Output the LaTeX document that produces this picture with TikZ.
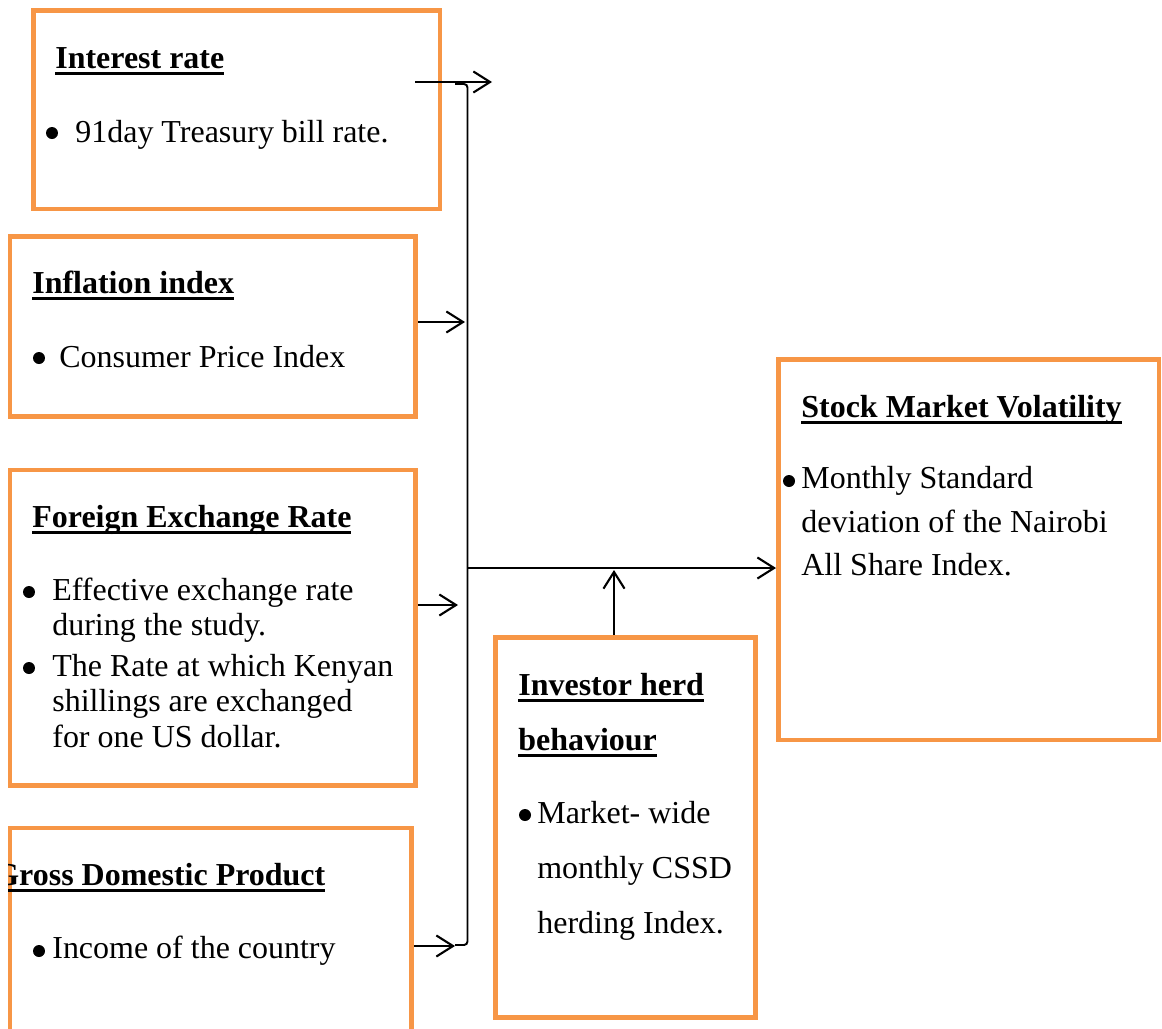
\documentclass[tikz,border=0pt]{standalone}
\usepackage{fontspec}
\setmainfont{Liberation Serif}
\usetikzlibrary{arrows.meta,fit}
\definecolor{boxorange}{HTML}{F79646}
\newcommand{\headline}[1]{\setbox0\hbox{\bfseries #1}\rlap{\rule[-4.2pt]{\wd0}{2.1pt}}\box0}

\begin{document}
\begin{tikzpicture}[x=0.02cm, y=-0.02cm,
	factor/.style={draw=boxorange, line width=2.8pt, inner sep=0pt},
	txt/.style={anchor=base west, inner sep=0pt, font=\fontsize{18.2}{22}\selectfont},
	dot/.style={circle, fill=black, inner sep=0pt, minimum size=0.24cm},
	flow/.style={line width=1.2pt, -{Straight Barb[length=9.5pt,width=12pt,line width=1.2pt]}},
	bus/.style={line width=1.1pt, rounded corners=2pt}]
			%%%%% START %%%%%
			
			\useasboundingbox (0, 0) rectangle (1162, 1028);
			
			% boxes
			\node[factor, fit={(33.5, 10.5) (440, 209)}] (interest) {};
			\node[factor, fit={(10, 236.5) (415.5, 416.5)}] (inflation) {};
			\node[factor, fit={(10, 470) (415.5, 785.5)}] (foreign) {};
			\node[factor, fit={(10, 828) (411.5, 1035)}] (gdp) {};
			\node[factor, fit={(495.5, 637.5) (755.5, 1017.5)}] (herd) {};
			\node[factor, fit={(778.5, 359.5) (1159, 740)}] (stock) {};
			
			% interest rate
			\node[txt] (irHead) at (55, 68) {\headline{Interest rate}};
			\node[dot] (irDot) at (52, 133) {};
			\node[txt] (irItem) at (75, 142) {91day Treasury bill rate.};
			
			% inflation
			\node[txt] (infHead) at (32, 293) {\headline{Inflation index}};
			\node[dot] (infDot) at (39, 358) {};
			\node[txt] (infItem) at (59, 367) {Consumer Price Index};
			
			% foreign exchange
			\node[txt] (fxHead) at (32, 527) {\headline{Foreign Exchange Rate}};
			\node[dot] (fxDotA) at (29, 592) {};
			\node[txt] (fxItemA) at (52, 600) {Effective exchange rate};
			\node[txt] (fxItemB) at (52, 635) {during the study.};
			\node[dot] (fxDotB) at (29, 668) {};
			\node[txt] (fxItemC) at (52, 676) {The Rate at which Kenyan};
			\node[txt] (fxItemD) at (52, 711) {shillings are exchanged};
			\node[txt] (fxItemE) at (52, 747) {for one US dollar.};
			
			% gdp, heading cut at the box edge
			\begin{scope}
				\clip (8, 820) rectangle (420, 1028);
				\node[txt] (gdpHead) at (-6, 885) {\headline{Gross Domestic Product}};
			\end{scope}
			\node[dot] (gdpDot) at (39, 951) {};
			\node[txt] (gdpItem) at (52, 958) {Income of the country};
			
			% herd behaviour
			\node[txt] (herdHeadA) at (518, 695) {\headline{Investor herd}};
			\node[txt] (herdHeadB) at (518, 750) {\headline{behaviour}};
			\node[dot] (herdDot) at (525, 815) {};
			\node[txt] (herdItemA) at (537, 823) {Market- wide};
			\node[txt] (herdItemB) at (537, 878) {monthly CSSD};
			\node[txt] (herdItemC) at (537, 933) {herding Index.};
			
			% volatility
			\node[txt] (smvHead) at (801, 417) {\headline{Stock Market Volatility}};
			\node[dot] (smvDot) at (789, 481) {};
			\node[txt] (smvItemA) at (801, 488) {Monthly Standard};
			\node[txt] (smvItemB) at (801, 532) {deviation of the Nairobi};
			\node[txt] (smvItemC) at (801, 575) {All Share Index.};
			
			% connectors
			\coordinate (irStart) at (415, 82);
			\coordinate (irEnd) at (492, 82);
			\coordinate (hookTop) at (455, 84);
			\coordinate (busBot) at (467.5, 945);
			\coordinate (hookBot) at (455, 945);
			\coordinate (infIn) at (465, 322);
			\coordinate (fxIn) at (458, 605);
			\coordinate (gdpIn) at (455, 946);
			\coordinate (hub) at (467.5, 568);
			\coordinate (merge) at (614, 570);
			
			\draw[bus] (hookTop) -| (busBot) -- (hookBot);
			\draw[flow] (irStart) -- (irEnd);
			\draw[flow] (inflation.east |- infIn) -- (infIn);
			\draw[flow] (foreign.east |- fxIn) -- (fxIn);
			\draw[flow] (gdp.east |- gdpIn) -- (gdpIn);
			\draw[flow] (hub) -- (stock.west |- hub);
			\draw[flow] (herd.north -| merge) -- (merge);
			
			%%%%% END %%%%%
\end{tikzpicture}
\end{document}
